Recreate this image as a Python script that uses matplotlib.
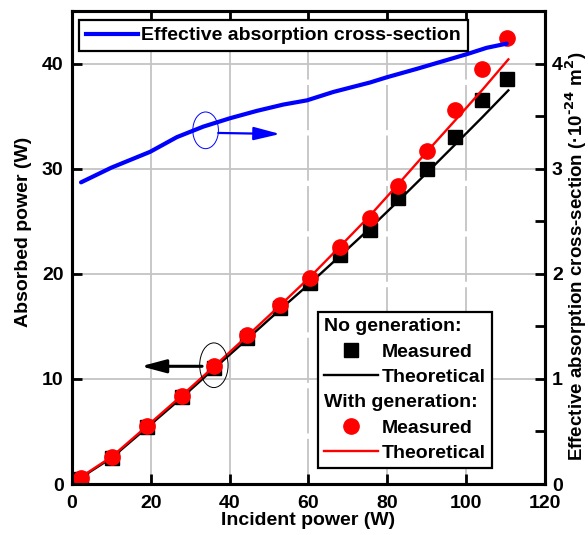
import matplotlib
matplotlib.use('Agg')
import numpy as np
from matplotlib import pyplot as plt
from matplotlib.lines import Line2D
from matplotlib.patches import Ellipse

plt.rcParams['font.family'] = ['Liberation Sans', 'DejaVu Sans']
plt.rcParams['font.weight'] = 'bold'
plt.rcParams['font.size'] = 14
plt.rcParams['mathtext.default'] = 'bf'

# measured points
incident = [2.3, 10.1, 19.0, 27.8, 36.1, 44.5, 52.8, 60.4, 68.0, 75.5, 82.7, 90.0, 97.2, 104.1, 110.4]
meas_no_gen = [0.5, 2.5, 5.4, 8.3, 11.0, 13.9, 16.7, 19.1, 21.8, 24.2, 27.2, 30.0, 33.0, 36.5, 38.5]
meas_with_gen = [0.6, 2.6, 5.5, 8.4, 11.2, 14.2, 17.0, 19.6, 22.55, 25.3, 28.4, 31.7, 35.6, 39.5, 42.4]

# theoretical curves
theo_x = [1.2, 10.1, 19.0, 27.8, 36.1, 44.5, 52.8, 60.4, 68.0, 75.5, 82.7, 90.0, 97.2, 104.1, 110.7]
theo_no_gen = [0.35, 2.5, 5.35, 8.2, 11.0, 13.8, 16.6, 19.1, 21.7, 24.3, 26.9, 29.6, 32.3, 34.9, 37.45]
theo_with_gen = [0.4, 2.6, 5.5, 8.4, 11.2, 14.1, 17.0, 19.7, 22.6, 25.5, 28.5, 31.6, 34.6, 37.5, 40.4]

# effective absorption cross-section (1e-24 m^2)
cs_x = [2.3, 10.0, 19.8, 26.6, 33.3, 36.7, 40.1, 46.9, 53.6, 59.6, 66.3, 75.6, 79.9, 87.5, 100.2, 105.2, 110.3]
cs_y = [2.87, 3.01, 3.16, 3.30, 3.40, 3.44, 3.48, 3.55, 3.61, 3.65, 3.73, 3.82, 3.87, 3.95, 4.09, 4.15, 4.19]

x_ticks = [0, 20, 40, 60, 80, 100, 120]
y_ticks = [0, 10, 20, 30, 40]
y2_ticks = [0, 1, 2, 3, 4]

GRID = {'color': '#c4c4c4', 'linewidth': 1.3, 'zorder': 0}

fig = plt.figure(figsize=(5.88, 5.35), dpi=100)
ax = fig.add_axes([0.1224, 0.0953, 0.8045, 0.8841])
ax2 = ax.twinx()

for y in y_ticks[1:]:
    ax.axhline(y, **GRID)
for x in x_ticks[1:-1]:
    ls = '-' if x < 60 else (0, (25, 3))
    ax.axvline(x, linestyle=ls, **GRID)

ax.plot(theo_x, theo_no_gen, color='black', linewidth=1.7, zorder=2)
ax.plot(incident, meas_no_gen, 's', color='black', markersize=9.5, zorder=3)
ax.plot(theo_x, theo_with_gen, color='red', linewidth=1.7, zorder=4)
ax.plot(incident, meas_with_gen, 'o', color='red', markersize=11, zorder=5)

ax2.plot(cs_x, cs_y, color='blue', linewidth=3, solid_capstyle='round')

# ellipses and arrows pointing to the axes
ax.add_patch(Ellipse((36.0, 11.3), 7.2, 4.25, fill=False, edgecolor='black', linewidth=0.7, zorder=6))
ax.annotate('', xy=(17.5, 11.2), xytext=(33.0, 11.2),
            arrowprops=dict(arrowstyle='-|>,head_length=0.75,head_width=0.2', mutation_scale=20,
                            color='black', linewidth=2.2, shrinkA=0, shrinkB=0), zorder=6)
ax2.add_patch(Ellipse((33.9, 3.365), 6.5, 0.349, fill=False, edgecolor='blue', linewidth=0.7))
ax2.annotate('', xy=(52.8, 3.33), xytext=(37.1, 3.34),
             arrowprops=dict(arrowstyle='-|>,head_length=0.8,head_width=0.2', mutation_scale=20,
                             color='blue', linewidth=1.6, shrinkA=0, shrinkB=0))

ax.set_xlim(0, 120)
ax.set_ylim(0, 45)
ax2.set_ylim(0, 4.5)
ax.set_xticks(x_ticks)
ax.set_yticks(y_ticks)
ax2.set_yticks(y2_ticks)
ax2.set_yticks(np.arange(0.5, 4.5, 1.0), minor=True)

ax.tick_params(axis='both', direction='in', length=7, width=2, pad=6, top=True, labelsize=14)
ax.tick_params(axis='x', pad=8)
ax2.tick_params(axis='y', which='both', direction='in', length=7, width=2, pad=5, labelsize=14)
for a in (ax, ax2):
    for s in a.spines.values():
        s.set_linewidth(2.2)

ax.set_xlabel('Incident power (W)', fontsize=14, fontweight='bold', labelpad=0)
ax.set_ylabel('Absorbed power (W)', fontsize=14, fontweight='bold')
ax.yaxis.set_label_coords(-0.085, 0.533)
ax2.set_ylabel(r'Effective absorption cross-section (·10$^{\text{-24}}$ m$^2$)',
               fontsize=13.5, fontweight='bold')
ax2.yaxis.set_label_coords(1.039, 0.482)

# legends
leg1 = ax2.legend(handles=[Line2D([], [], color='blue', linewidth=3)],
                  labels=['Effective absorption cross-section'],
                  loc='upper left', bbox_to_anchor=(0.0148, 0.981), borderaxespad=0,
                  handlelength=2.7, handletextpad=0.15, borderpad=0.35, fancybox=False,
                  framealpha=1, edgecolor='black', fontsize=14)
leg1.get_frame().set_linewidth(1.6)
ax2.add_artist(leg1)

blank = Line2D([], [], linestyle='none')
handles = [blank,
           Line2D([], [], linestyle='none', marker='s', color='black', markersize=9.5),
           Line2D([], [], color='black', linewidth=1.7),
           blank,
           Line2D([], [], linestyle='none', marker='o', color='red', markersize=11),
           Line2D([], [], color='red', linewidth=1.7)]
labels = ['No generation:', 'Measured', 'Theoretical', 'With generation:', 'Measured', 'Theoretical']
leg2 = ax2.legend(handles=handles, labels=labels, loc='upper right', bbox_to_anchor=(0.888, 0.364),
                  borderaxespad=0, handlelength=2.8, handletextpad=0.2, borderpad=0.3,
                  labelspacing=0.4, fancybox=False, framealpha=1, edgecolor='black', fontsize=14)
leg2.get_frame().set_linewidth(1.6)
# headers start at the handle column
for row in leg2._legend_handle_box.get_children()[0].get_children():
    hbox, tbox = row.get_children()
    if tbox.get_text().endswith(':'):
        hbox.width = 0
        row.sep = 0

fig.savefig('out.png', dpi=100)
